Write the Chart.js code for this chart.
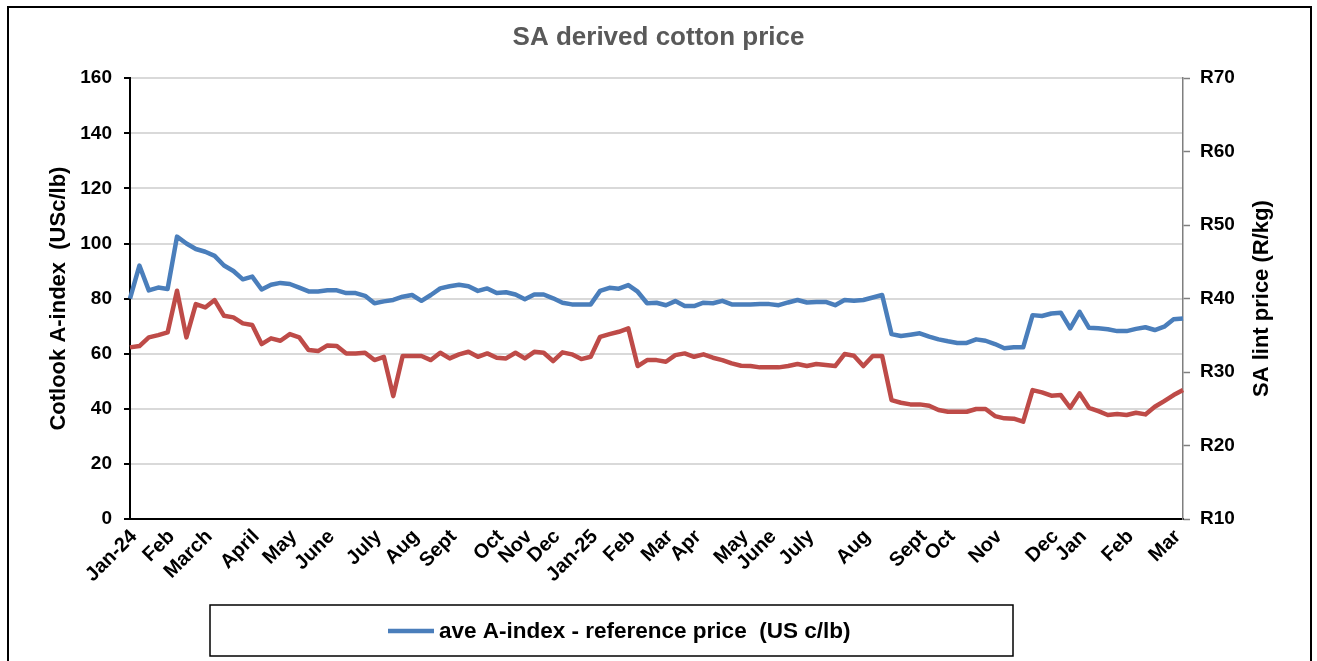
<!DOCTYPE html>
<html>
<head>
<meta charset="utf-8">
<script src="https://cdn.jsdelivr.net/npm/chart.js@4.4.1/dist/chart.umd.min.js"></script>
<style>
  html, body { margin: 0; padding: 0; background: #fff; }
  #wrap { width: 1317px; height: 661px; }
</style>
</head>
<body>
<div id="wrap"><canvas id="c" width="1317" height="661"></canvas></div>
<script>
// ---- data ----
const monthTickLabels = ['Jan-24','Feb','March','April','May','June','July','Aug','Sept','Oct','Nov','Dec',
  'Jan-25','Feb','Mar','Apr','May','June','July','Aug','Sept','Oct','Nov','Dec','Jan','Feb','Mar'];
const monthTickIndex = [0,4,8,13,17,21,26,30,34,39,42,45,49,53,57,60,65,68,72,78,84,87,92,98,101,106,111];

const aIndex = [80,92,83,84,83.5,102.5,100,98,97,95.5,92,90,87,88,83.3,85,85.7,85.3,84,82.6,
  82.6,83,83,82,82,81,78.3,79,79.5,80.7,81.3,79.2,81.3,83.7,84.5,85,84.5,82.8,83.7,82,
  82.3,81.5,79.8,81.5,81.5,80.1,78.5,77.9,77.9,77.9,82.8,83.9,83.6,84.9,82.5,78.3,78.5,77.6,79.1,77.3,
  77.3,78.5,78.3,79.2,77.9,77.9,77.9,78,78,77.6,78.6,79.5,78.6,78.8,78.8,77.6,79.5,79.2,79.5,80.4,
  81.3,67.1,66.4,66.9,67.4,66.2,65.2,64.5,63.9,63.9,65.2,64.7,63.5,62,62.3,62.3,74,73.7,74.6,74.9,
  69.2,75.2,69.4,69.2,68.9,68.2,68.2,69,69.6,68.6,69.8,72.5,72.8];

const saLint = [33.36,33.54,34.72,35.03,35.4,41.06,34.72,39.25,38.8,39.8,37.66,37.44,36.63,36.4,33.81,34.59,34.26,35.17,34.72,32.99,
  32.86,33.63,33.54,32.54,32.54,32.63,31.63,32.08,26.73,32.18,32.18,32.18,31.63,32.63,31.86,32.41,32.76,32.08,32.54,31.95,
  31.86,32.63,31.86,32.76,32.63,31.5,32.68,32.41,31.77,32.08,34.8,35.17,35.48,35.95,30.82,31.63,31.63,31.4,32.31,32.54,
  32.08,32.41,31.95,31.63,31.18,30.86,30.82,30.64,30.64,30.64,30.82,31.09,30.82,31.09,30.95,30.82,32.45,32.22,30.82,32.18,
  32.18,26.19,25.82,25.6,25.6,25.41,24.83,24.6,24.6,24.6,24.97,24.97,24.01,23.7,23.65,23.24,27.55,27.24,26.78,26.87,
  25.14,27.1,25.14,24.69,24.15,24.29,24.15,24.46,24.24,25.28,26.05,26.87,27.55];

const titleText = 'SA derived cotton price';
const leftTitle = 'Cotlook A-index  (USc/lb)';
const rightTitle = 'SA lint price (R/kg)';
const seriesNames = ['ave A-index - reference price  (US c/lb)', 'SA lint price (R/kg)'];

// weekly category labels: month name on first week of month, otherwise empty
const weekLabels = aIndex.map(() => '');
monthTickIndex.forEach((idx, k) => { weekLabels[idx] = monthTickLabels[k]; });

const FONT = '"Liberation Sans", Arial, sans-serif';

const framePlugin = {
  id: 'frame',
  beforeDraw(chart) {
    const ctx = chart.ctx;
    ctx.save();
    ctx.fillStyle = '#fff';
    ctx.fillRect(0, 0, chart.width, chart.height);
    ctx.restore();
  },
  afterDraw(chart) {
    const ctx = chart.ctx;
    ctx.save();
    ctx.strokeStyle = '#000';
    ctx.lineWidth = 2;
    ctx.strokeRect(8, 7, 1303, 700);
    // right axis title (reads bottom-to-top)
    ctx.translate(1262, (chart.chartArea.top + chart.chartArea.bottom) / 2);
    ctx.rotate(-Math.PI / 2);
    ctx.fillStyle = '#000';
    ctx.font = 'bold 22px ' + FONT;
    ctx.textAlign = 'center';
    ctx.textBaseline = 'middle';
    ctx.fillText(rightTitle, 0, 0);
    ctx.restore();

    // legend box
    ctx.save();
    ctx.strokeStyle = '#000';
    ctx.lineWidth = 1.5;
    ctx.strokeRect(210, 605, 803, 51);
    const ds = chart.data.datasets[0];
    ctx.strokeStyle = ds.borderColor;
    ctx.lineWidth = 4.5;
    ctx.beginPath();
    ctx.moveTo(388, 631);
    ctx.lineTo(434, 631);
    ctx.stroke();
    ctx.fillStyle = '#000';
    ctx.font = 'bold 22.5px ' + FONT;
    ctx.textAlign = 'left';
    ctx.textBaseline = 'middle';
    ctx.fillText(ds.label, 439, 632);
    ctx.restore();
  }
};

new Chart(document.getElementById('c'), {
  type: 'line',
  data: {
    labels: weekLabels,
    datasets: [
      { label: seriesNames[0], data: aIndex, yAxisID: 'y', borderColor: '#4A7EBB', backgroundColor: '#4A7EBB',
        borderWidth: 4.5, pointRadius: 0, tension: 0, borderJoinStyle: 'round' },
      { label: seriesNames[1], data: saLint, yAxisID: 'y1', borderColor: '#BE4B48', backgroundColor: '#BE4B48',
        borderWidth: 4.5, pointRadius: 0, tension: 0, borderJoinStyle: 'round' }
    ]
  },
  options: {
    responsive: false,
    animation: false,
    devicePixelRatio: 1,
    layout: { padding: { left: 0, right: 0, top: 0, bottom: 0 } },
    plugins: {
      legend: { display: false },
      tooltip: { enabled: false },
      title: {
        display: true, text: titleText, color: '#595959',
        font: { family: FONT, size: 26, weight: 'bold' },
        padding: { top: 22, bottom: 25 }
      }
    },
    scales: {
      x: {
        type: 'category',
        offset: false,
        grid: { display: true, drawOnChartArea: false, drawTicks: false, color: 'transparent' },
        border: { display: true, color: '#000', width: 2 },
        ticks: {
          autoSkip: false, maxRotation: 45, minRotation: 45, padding: 6, labelOffset: 4,
          color: '#000', font: { family: FONT, size: 20, weight: 'bold' }
        },
        afterFit(scale) { scale.height = 142; }
      },
      y: {
        position: 'left', min: 0, max: 160,
        ticks: { stepSize: 20, color: '#000', padding: 12, font: { family: FONT, size: 19, weight: 'bold' } },
        grid: { color: '#D9D9D9', lineWidth: 2, drawTicks: true, tickLength: 6, tickColor: '#000', tickWidth: 2 },
        border: { display: true, color: '#000', width: 2 },
        title: { display: true, text: leftTitle, color: '#000', padding: { top: 46, bottom: 0 },
          font: { family: FONT, size: 22, weight: 'bold' } },
        afterFit(scale) { scale.width = 130; }
      },
      y1: {
        position: 'right', min: 10, max: 70,
        ticks: { stepSize: 10, color: '#000', padding: 10, callback: v => 'R' + v,
          font: { family: FONT, size: 19, weight: 'bold' } },
        grid: { drawOnChartArea: false, drawTicks: true, tickLength: 7, tickColor: '#7F7F7F', tickWidth: 1.5 },
        border: { display: true, color: '#7F7F7F', width: 1.5 },
        afterFit(scale) { scale.width = 134; }
      }
    }
  },
  plugins: [framePlugin]
});
</script>
</body>
</html>
